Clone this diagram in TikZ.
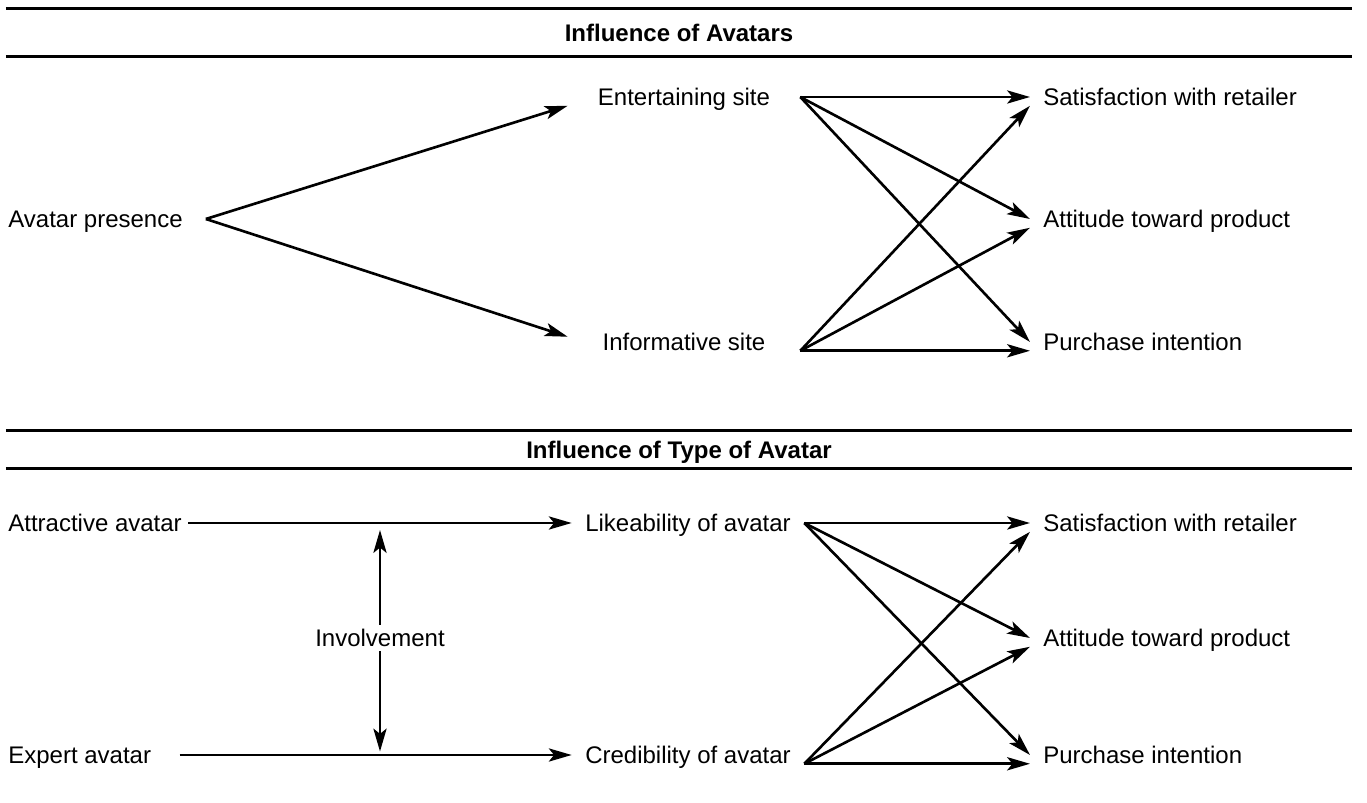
\documentclass[tikz,border=0pt]{standalone}
\usepackage{fontspec}
\setmainfont{Liberation Sans}
\usetikzlibrary{positioning}
\usetikzlibrary{arrows.meta}

\begin{document}
\begin{tikzpicture}[x=0.02cm, y=-0.02cm,
	every node/.style={font=\fontsize{13.66pt}{16pt}\selectfont, inner sep=0pt, text height=9.8pt, text depth=0pt},
	src/.style={anchor=west},
	mid/.style={minimum width=4.64cm},
	dst/.style={anchor=west, inner xsep=7.4pt},
	head/.style={font=\fontsize{13.66pt}{16pt}\selectfont\bfseries, minimum width=26.92cm},
	rule/.style={line width=1.9pt},
	arr/.style={line width=1.5pt, -{Stealth[length=13pt, width=7.5pt, inset=3pt]}}]
	\useasboundingbox (0,0) rectangle (1367,803);

	% upper panel
	\node [head, minimum height=0.94cm] (t1) at (679,32.5) {Influence of Avatars};
	\draw [rule] (t1.north west) -- (t1.north east);
	\draw [rule] (t1.south west) -- (t1.south east);

	\node [src] (pres) at (8,219) {Avatar presence};
	\node [mid] (ent) at (684,97) {Entertaining site};
	\node [mid] (inf) at (684,342) {Informative site};
	\node [dst] (sat1) at (1030,97) {Satisfaction with retailer};
	\node [dst] (att1) at (1030,219) {Attitude toward product};
	\node [dst] (pur1) at (1030,342) {Purchase intention};

	\draw [arr] ([xshift=13pt]pres.east) -- ([yshift=-5pt]ent.west);
	\draw [arr] ([xshift=13pt]pres.east) -- ([yshift=3pt]inf.west);
	\foreach \t in {sat1,att1,pur1}
		\draw [arr] (ent.east) -- (\t.west);
	\foreach \t in {sat1,att1,pur1}
		\draw [arr] ([yshift=-5pt]inf.east) -- ([yshift=-5pt]\t.west);

	% lower panel
	\node [head, minimum height=0.74cm] (t2) at (679,449.5) {Influence of Type of Avatar};
	\draw [rule] (t2.north west) -- (t2.north east);
	\draw [rule] (t2.south west) -- (t2.south east);

	\node [src] (attr) at (8,523) {Attractive avatar};
	\node [src] (exp) at (8,755) {Expert avatar};
	\node [inner ysep=2.5pt] (inv) at (380,638) {Involvement};
	\node [mid] (like) at (688,523) {Likeability of avatar};
	\node [mid] (cred) at (688,755) {Credibility of avatar};
	\node [dst] (sat2) at (1030,523) {Satisfaction with retailer};
	\node [dst] (att2) at (1030,638) {Attitude toward product};
	\node [dst] (pur2) at (1030,755) {Purchase intention};

	\draw [arr, shorten <=3.5pt] (attr.east) -- (like.west);
	\draw [arr, shorten <=16pt] (exp.east) -- (cred.west);
	\draw [arr, shorten >=4pt] (inv.north) -- (inv.north |- attr.east);
	\draw [arr, shorten >=2pt] (inv.south) -- (inv.south |- exp.east);
	\foreach \t in {sat2,att2,pur2}
		\draw [arr] (like.east) -- (\t.west);
	\foreach \t in {sat2,att2,pur2}
		\draw [arr] ([yshift=-5pt]cred.east) -- ([yshift=-5pt]\t.west);
\end{tikzpicture}
\end{document}
